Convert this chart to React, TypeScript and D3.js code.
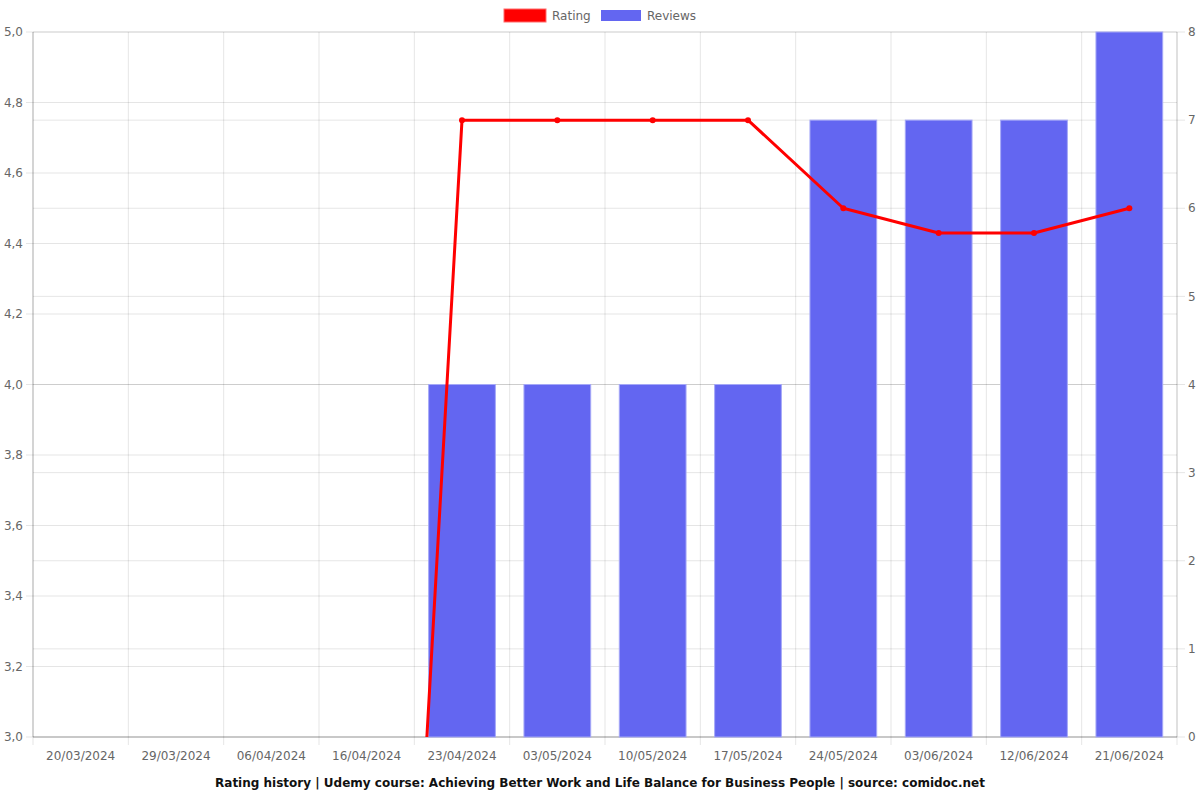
import React from "react";
import * as d3 from "d3";

const categories = [
  "20/03/2024", "29/03/2024", "06/04/2024", "16/04/2024", "23/04/2024", "03/05/2024",
  "10/05/2024", "17/05/2024", "24/05/2024", "03/06/2024", "12/06/2024", "21/06/2024",
];
const ratingValues = [0, 0, 0, 0, 4.75, 4.75, 4.75, 4.75, 4.5, 4.43, 4.43, 4.5];
const reviewValues = [0, 0, 0, 0, 4, 4, 4, 4, 7, 7, 7, 8];
const leftTicks = [3.0, 3.2, 3.4, 3.6, 3.8, 4.0, 4.2, 4.4, 4.6, 4.8, 5.0];
const rightTicks = [0, 1, 2, 3, 4, 5, 6, 7, 8];
const title =
  "Rating history | Udemy course: Achieving Better Work and Life Balance for Business People | source: comidoc.net";

const W = 1200, H = 800;
const L = 33, R = 1177, T = 32, B = 737;
const FONT = "DejaVu Sans, sans-serif";
const GRID = "rgba(0,0,0,0.1)";
const TXT = "#666";

export default function App() {
  const x = d3.scaleBand<string>().domain(categories).range([L, R]).paddingInner(0).paddingOuter(0);
  const yL = d3.scaleLinear().domain([3, 5]).range([B, T]);
  const yR = d3.scaleLinear().domain([0, 8]).range([B, T]);
  const bw = x.bandwidth() * 0.7;
  const cx = (c: string) => (x(c) as number) + x.bandwidth() / 2;
  const line = d3
    .line<number>()
    .x((_, i) => cx(categories[i]))
    .y((d) => yL(d));
  const boundaries = d3.range(categories.length + 1).map((i) => L + i * x.bandwidth());

  return (
    <div style={{ position: "absolute", left: 0, top: 0 }}>
      <svg width={W} height={H} style={{ display: "block", background: "#fff" }} fontFamily={FONT}>
        <defs>
          <clipPath id="plotclip">
            <rect x={L} y={T} width={R - L} height={B - T} />
          </clipPath>
        </defs>
        {boundaries.map((bx, i) => (
          <line key={"vg" + i} x1={bx} x2={bx} y1={T} y2={B + 8} stroke={GRID} strokeWidth={1} />
        ))}
        {leftTicks.map((t, i) => (
          <line key={"lg" + i} x1={L - 7} x2={R} y1={yL(t)} y2={yL(t)} stroke={GRID} strokeWidth={1} />
        ))}
        {rightTicks.map((t, i) => (
          <line key={"rg" + i} x1={L} x2={R + 8} y1={yR(t)} y2={yR(t)} stroke={GRID} strokeWidth={1} />
        ))}
        <line x1={L} x2={L} y1={T} y2={B} stroke="rgba(0,0,0,0.12)" strokeWidth={2} />
        <line x1={R} x2={R} y1={T} y2={B} stroke="rgba(0,0,0,0.15)" strokeWidth={1} />
        <line x1={L} x2={R} y1={B} y2={B} stroke="rgba(0,0,0,0.25)" strokeWidth={1} />
        {reviewValues.map((v, i) =>
          v > 0 ? (
            <rect
              key={"b" + i}
              x={cx(categories[i]) - bw / 2}
              y={yR(v)}
              width={bw}
              height={B - yR(v)}
              fill="#6366f1"
              stroke="#a5a8f7"
              strokeWidth={1}
            />
          ) : null
        )}
        <g clipPath="url(#plotclip)">
          <path d={line(ratingValues) || ""} fill="none" stroke="#ff0000" strokeWidth={3} strokeLinejoin="round" />
          {ratingValues.map((v, i) => (
            <circle key={"p" + i} cx={cx(categories[i])} cy={yL(v)} r={3} fill="#ff0000" />
          ))}
        </g>
        {leftTicks.map((t, i) => (
          <text key={"lt" + i} x={L - 10} y={yL(t)} dy="0.35em" textAnchor="end" fontSize={12} fill={TXT}>
            {t.toFixed(1).replace(".", ",")}
          </text>
        ))}
        {rightTicks.map((t, i) => (
          <text key={"rt" + i} x={R + 11} y={yR(t)} dy="0.35em" textAnchor="start" fontSize={12} fill={TXT}>
            {t}
          </text>
        ))}
        {categories.map((c, i) => (
          <text key={"xl" + i} x={cx(c)} y={760} textAnchor="middle" fontSize={12} fill={TXT}>
            {c}
          </text>
        ))}
        <rect x={504} y={9} width={42} height={13} fill="#ff0000" stroke="#ff6b6b" strokeWidth={1} />
        <text x={552} y={20} fontSize={12} fill={TXT}>Rating</text>
        <rect x={601} y={10} width={40} height={11} fill="#6366f1" />
        <text x={647} y={20} fontSize={12} fill={TXT}>Reviews</text>
        <text x={600} y={787} textAnchor="middle" fontSize={12} fontWeight="bold" fill="#111">
          {title}
        </text>
      </svg>
    </div>
  );
}
